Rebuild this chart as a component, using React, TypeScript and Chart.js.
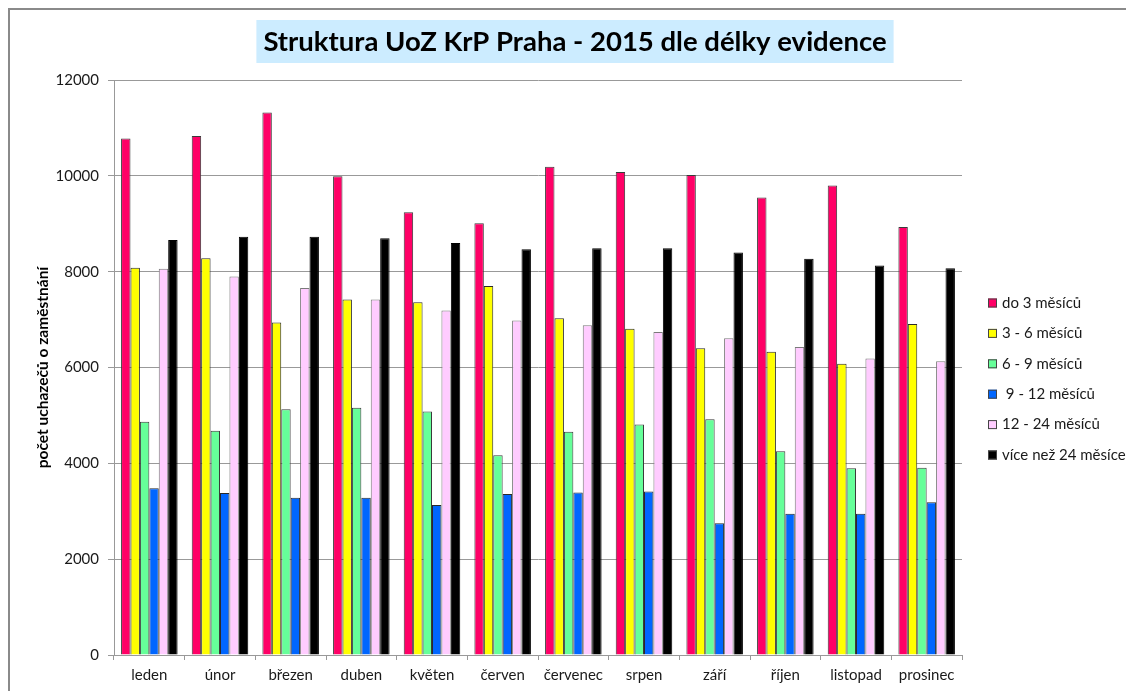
import { useEffect, useRef } from 'react';
import { Chart, registerables } from 'chart.js';

Chart.register(...registerables);

const FONT = "Lato, 'Open Sans', 'DejaVu Sans', sans-serif";

const titleText = 'Struktura UoZ KrP Praha - 2015 dle délky evidence';
const yAxisTitle = 'počet uchazečů o zaměstnání';

const categories = ['leden', 'únor', 'březen', 'duben', 'květen', 'červen', 'červenec', 'srpen', 'září', 'říjen', 'listopad', 'prosinec'];

const seriesNames = ['do 3 měsíců', '3 - 6 měsíců', '6 - 9 měsíců', ' 9 - 12 měsíců', '12 - 24 měsíců', 'více než 24 měsíce'];

const do3 = [10780, 10830, 11320, 9990, 9240, 9010, 10190, 10080, 10020, 9550, 9800, 8930];
const m3to6 = [8080, 8280, 6940, 7420, 7360, 7700, 7030, 6810, 6400, 6330, 6080, 6910];
const m6to9 = [4870, 4680, 5130, 5160, 5080, 4170, 4660, 4810, 4920, 4250, 3900, 3910];
const m9to12 = [3480, 3380, 3280, 3280, 3130, 3360, 3390, 3410, 2750, 2950, 2950, 3190];
const m12to24 = [8060, 7900, 7660, 7420, 7190, 6980, 6880, 6740, 6610, 6430, 6190, 6130];
const over24 = [8660, 8730, 8730, 8700, 8600, 8470, 8490, 8490, 8400, 8270, 8130, 8070];

const seriesData = [do3, m3to6, m6to9, m9to12, m12to24, over24];
const colors = ['#FF0066', '#FFFF00', '#66FF99', '#0066FF', '#FFCCFF', '#000000'];
const borderColors = ['#3a3a3a', '#2a2a2a', '#3a3a3a', '#2a2a2a', '#7a7a7a', '#000000'];

const yTicks = [0, 2000, 4000, 6000, 8000, 10000, 12000];

const W = 1124;
const H = 681;

const decor = {
  id: 'decor',
  beforeDraw(chart: any) {
    const ctx = chart.ctx as CanvasRenderingContext2D;
    ctx.save();
    ctx.font = `bold 27.5px ${FONT}`;
    const tw = ctx.measureText(titleText).width;
    const cx = 565;
    const boxW = tw + 14;
    ctx.fillStyle = '#CCECFF';
    ctx.fillRect(cx - boxW / 2, 10, boxW, 43);
    ctx.fillStyle = '#000000';
    ctx.textAlign = 'center';
    ctx.textBaseline = 'alphabetic';
    ctx.fillText(titleText, cx, 41);
    ctx.restore();
  },
  afterDraw(chart: any) {
    const ctx = chart.ctx as CanvasRenderingContext2D;
    const area = chart.chartArea;
    ctx.save();
    const lx = area.right + 26;
    chart.data.datasets.forEach((ds: any, i: number) => {
      const y = 293 + i * 30.4;
      ctx.fillStyle = ds.backgroundColor;
      ctx.fillRect(lx, y - 4.5, 9, 9);
      ctx.strokeStyle = '#444';
      ctx.lineWidth = 1;
      ctx.strokeRect(lx + 0.5, y - 4, 8, 8);
      ctx.fillStyle = '#1a1a1a';
      ctx.font = `15px ${FONT}`;
      ctx.textAlign = 'left';
      ctx.textBaseline = 'middle';
      ctx.fillText(ds.label, lx + 14, y);
    });
    ctx.restore();
  },
};

export default function App() {
  const ref = useRef<HTMLCanvasElement>(null);
  useEffect(() => {
    document.body.style.overflow = 'hidden';
    const chart = new Chart(ref.current!, {
      type: 'bar',
      data: {
        labels: categories,
        datasets: seriesNames.map((name, i) => ({
          label: name,
          data: seriesData[i],
          backgroundColor: colors[i],
          borderColor: borderColors[i],
          borderWidth: 1,
          categoryPercentage: 0.8,
          barPercentage: 1,
        })),
      },
      options: {
        responsive: false,
        animation: false,
        layout: { padding: { top: 70, right: 172, left: 0, bottom: 0 } },
        plugins: {
          legend: { display: false },
          title: { display: false },
          tooltip: { enabled: false },
        },
        scales: {
          x: {
            grid: { offset: true, drawOnChartArea: false, drawTicks: true, tickLength: 5, color: '#999' },
            border: { color: '#999' },
            ticks: { font: { family: FONT, size: 15 }, color: '#1a1a1a', padding: 6, maxRotation: 0, autoSkip: false },
            afterFit: (s: any) => { s.height = 36; },
          },
          y: {
            min: 0,
            max: 12000,
            afterBuildTicks: (s: any) => { s.ticks = yTicks.map((v) => ({ value: v })); },
            ticks: {
              font: { family: FONT, size: 15 },
              color: '#1a1a1a',
              padding: 9,
              callback: (v: any) => String(v),
            },
            grid: { color: '#999', tickLength: 6 },
            border: { color: '#999' },
            title: {
              display: true,
              text: yAxisTitle,
              font: { family: FONT, size: 15.5, weight: 'bold' },
              color: '#000',
              padding: { top: 24, bottom: 0 },
            },
            afterFit: (s: any) => { s.width = 104; },
          },
        },
      },
      plugins: [decor],
    });
    return () => chart.destroy();
  }, []);

  return (
    <div style={{ width: W, height: H, borderLeft: '2px solid #8a8a8a', borderTop: '2px solid #8a8a8a' }}>
      <canvas ref={ref} width={W} height={H} style={{ display: 'block', width: W, height: H }} />
    </div>
  );
}
